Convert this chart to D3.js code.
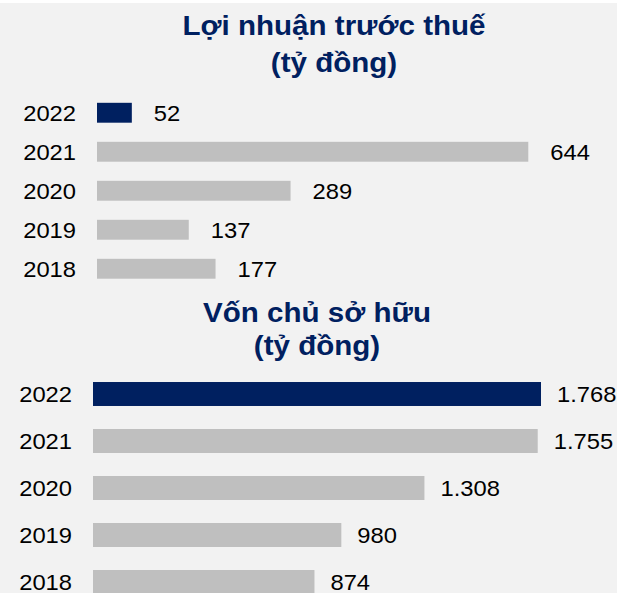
<!DOCTYPE html>
<html>
<head>
<meta charset="utf-8">
<script src="https://cdn.jsdelivr.net/npm/d3@7"></script>
<style>
  html, body { margin: 0; padding: 0; background: #fff; }
  svg { display: block; }
  text { font-family: Arial, "Liberation Sans", sans-serif; }
</style>
</head>
<body>
<svg class="chart"></svg>
<script>
// data
var years = ["2022", "2021", "2020", "2019", "2018"];
var profit = [52, 644, 289, 137, 177];      // Lợi nhuận trước thuế (tỷ đồng)
var equity = [1768, 1755, 1308, 980, 874];  // Vốn chủ sở hữu (tỷ đồng)
var titles = [["Lợi nhuận trước thuế", "(tỷ đồng)"], ["Vốn chủ sở hữu", "(tỷ đồng)"]];

var width = 619, height = 593;
var navy = "#002060", grey = "#bfbfbf";

var vn = d3.formatLocale({decimal: ",", thousands: ".", grouping: [3], currency: ["", ""]});
var fmt = vn.format(",");

var chart = d3.select(".chart")
  .attr("width", width)
  .attr("height", height);

chart.append("rect")
  .attr("x", 0).attr("y", 3)
  .attr("width", width - 2).attr("height", height - 3)
  .attr("fill", "#f2f2f2");

// the picture's text is a bit stretched sideways, so scale x a little
function stretchedText(g, x, y, anchor, size, sx, bold, fill, str) {
  return g.append("text")
    .attr("transform", "translate(" + x + "," + y + ") scale(" + sx + ",1)")
    .attr("text-anchor", anchor)
    .style("font-size", size + "px")
    .style("font-weight", bold ? "bold" : "normal")
    .attr("fill", fill)
    .text(str);
}

var panels = [
  {values: profit, title: titles[0], cx: 334, t1: 35, t2: 72,
   x0: 97, x1: 528.3, yr: [93.25, 288.25], labelRight: 76, gap: 22},
  {values: equity, title: titles[1], cx: 317, t1: 322, t2: 355,
   x0: 93, x1: 541, yr: [370.5, 605.5], labelRight: 72, gap: 16}
];

panels.forEach(function(p) {
  var g = chart.append("g");

  var x = d3.scaleLinear()
    .domain([0, d3.max(p.values)])
    .range([p.x0, p.x1]);

  var y = d3.scaleBand()
    .domain(years)
    .range(p.yr)
    .paddingInner(0.49)
    .paddingOuter(0.245);

  stretchedText(g, p.cx, p.t1, "middle", 27.5, 1.075, true, navy, p.title[0]);
  stretchedText(g, p.cx, p.t2, "middle", 27.5, 1.075, true, navy, p.title[1]);

  g.selectAll("rect.bar")
    .data(p.values)
    .enter()
    .append("rect")
    .attr("class", "bar")
    .attr("x", x(0))
    .attr("y", function(d, i) { return y(years[i]); })
    .attr("width", function(d) { return x(d) - x(0); })
    .attr("height", y.bandwidth())
    .attr("fill", function(d, i) { return i === 0 ? navy : grey; });

  p.values.forEach(function(d, i) {
    var cy = y(years[i]) + y.bandwidth() / 2 + 22 * 0.36;
    stretchedText(g, p.labelRight, cy, "end", 22, 1.08, false, "#000", years[i]);
    stretchedText(g, x(d) + p.gap, cy, "start", 22, 1.08, false, "#000", fmt(d));
  });
});
</script>
</body>
</html>
